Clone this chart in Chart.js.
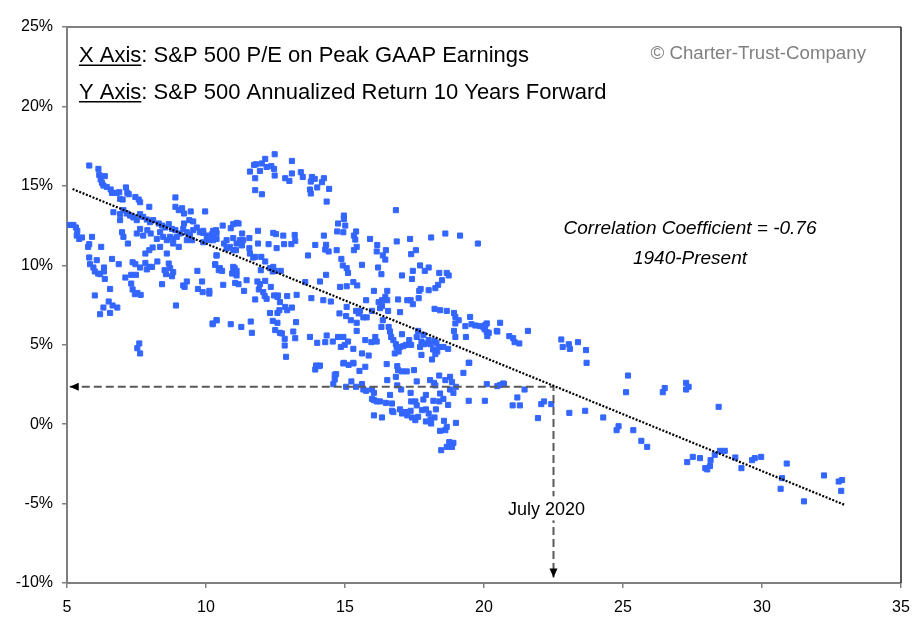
<!DOCTYPE html>
<html>
<head>
<meta charset="utf-8">
<title>S&amp;P 500 P/E vs 10-Year Forward Return</title>
<script src="https://cdn.jsdelivr.net/npm/chart.js@4.4.1/dist/chart.umd.min.js"></script>
<style>
    html, body { margin: 0; padding: 0; background: #fff; }
    #wrap { position: relative; width: 924px; height: 628px; }
</style>
</head>
<body>
<div id="wrap"><canvas id="chart"></canvas></div>
<script>
// Axis ticks
const ticksX = [5, 10, 15, 20, 25, 30, 35];
const ticksY = [-10, -5, 0, 5, 10, 15, 20, 25];

// S&P 500 P/E on peak GAAP earnings (x) and annualized return 10 years forward, % (y)
const peRatio = [
    5.80,6.13,6.16,6.21,6.26,6.36,6.31,6.43,6.57,6.62,6.79,6.88,7.12,7.17,7.22,6.91,7.00,7.46,7.58,7.63,7.96,8.90,8.90,9.02,9.14,9.21,9.45,9.97,
    6.67,6.91,7.03,7.15,7.27,7.39,7.51,7.63,7.74,7.87,7.99,8.10,8.30,8.42,8.54,8.66,8.78,8.90,8.35,8.46,8.59,8.71,8.23,8.82,8.95,9.06,9.18,9.31,9.42,9.54,9.67,9.78,9.90,10.03,10.14,10.26,10.38,9.31,9.50,9.21,9.40,9.54,
    6.91,7.51,7.74,7.63,7.89,8.01,8.35,8.59,8.82,9.02,
    5.11,5.23,5.32,5.37,5.35,5.44,5.54,5.90,5.80,5.76,6.23,6.98,7.03,7.19,
    5.80,5.83,5.95,6.00,6.12,6.07,6.19,6.33,6.33,6.36,6.62,6.86,6.55,6.00,6.31,6.19,6.50,6.55,6.64,6.81,
    7.36,7.46,7.63,7.31,7.10,7.31,7.36,7.44,7.53,7.65,7.48,7.87,7.96,8.06,8.25,7.82,7.96,8.08,7.82,
    8.51,8.66,8.71,8.56,8.82,8.78,8.42,9.18,9.31,9.23,9.71,9.88,10.12,10.12,9.86,9.69,10.33,10.38,10.46,8.92,10.24,10.38,7.60,7.53,7.63,
    12.47,12.13,12.01,11.73,11.80,11.58,11.94,12.18,12.35,12.45,12.47,13.09,11.77,12.85,13.00,13.09,13.41,13.48,13.81,13.91,13.77,14.24,14.17,14.00,13.74,13.77,14.43,14.34,11.77,12.01,
    11.10,11.17,10.98,10.60,10.89,11.30,11.87,10.26,10.36,10.22,10.14,9.90,10.03,9.90,10.26,10.38,10.65,10.74,10.86,10.98,11.10,10.98,11.22,11.34,11.29,10.74,11.56,
    11.56,11.70,11.77,11.58,11.08,10.38,10.33,10.50,10.58,10.98,10.94,11.10,10.98,11.03,11.10,11.05,11.17,10.62,11.46,11.37,11.87,
    12.25,12.54,12.78,13.19,13.21,13.07,12.52,12.81,12.42,11.99,12.13,11.97,12.30,12.42,12.49,12.69,12.40,11.85,11.94,11.90,12.13,12.33,12.06,12.11,
    11.77,12.18,12.45,12.59,12.66,12.57,12.92,12.85,12.92,13.09,13.26,13.24,12.30,12.57,12.64,12.40,12.57,11.61,11.65,11.27,10.89,10.38,10.24,
    12.49,12.66,12.73,12.83,12.83,13.14,13.21,12.88,
    13.93,14.24,14.32,14.29,14.41,14.70,14.72,14.75,14.96,14.96,15.01,14.94,15.32,15.40,15.37,15.42,15.32,14.87,14.92,15.06,15.11,14.82,15.06,15.30,15.44,14.80,15.04,15.21,15.42,15.42,
    14.32,14.10,13.57,13.79,14.22,14.49,15.06,15.40,14.85,14.99,15.11,15.30,14.34,13.74,14.00,14.29,14.56,14.75,14.94,13.93,14.96,15.30,13.67,
    16.83,15.90,16.16,16.14,16.47,16.36,16.45,16.86,15.61,16.19,16.31,17.34,18.10,18.61,19.14,19.78,17.55,17.38,
    17.70,18.01,17.87,17.44,17.41,17.05,18.39,18.66,18.73,18.49,18.35,18.25,18.01,17.72,17.67,
    16.04,16.52,16.45,16.33,16.21,16.33,16.26,15.97,15.76,15.54,15.49,15.66,15.78,16.52,16.91,16.98,17.24,17.36,17.44,17.65,
    16.55,16.36,16.31,16.09,15.95,16.14,15.73,15.61,15.85,16.57,16.62,16.66,16.74,16.83,16.86,16.98,17.10,17.19,
    16.79,16.93,17.05,17.31,17.38,17.63,17.58,17.82,17.75,17.94,17.84,17.70,17.75,
    18.22,18.42,18.66,18.92,18.97,19.09,19.33,19.50,19.55,19.69,19.86,19.98,20.05,20.10,20.17,20.46,18.97,18.92,18.97,19.35,
    18.01,18.08,18.22,18.29,18.17,18.32,18.37,18.54,18.71,18.13,18.25,19.47,
    13.96,14.10,14.63,14.58,14.94,15.13,15.30,15.52,15.73,15.23,15.04,15.40,15.61,15.66,15.76,15.97,16.04,15.97,16.04,16.14,16.26,16.47,16.62,16.69,16.74,
    16.88,16.91,16.50,16.52,16.83,16.88,17.05,17.22,17.48,17.58,17.02,17.36,17.38,17.53,17.58,17.82,17.91,18.06,18.20,18.25,18.39,18.61,18.78,18.85,18.78,18.90,
    18.42,18.18,18.39,18.54,18.71,18.99,19.26,19.45,19.45,20.03,20.10,20.48,
    16.04,16.33,16.69,16.98,17.05,17.17,17.24,17.36,17.41,17.53,17.63,17.77,17.91,18.01,17.91,18.08,18.22,18.27,18.10,18.56,18.66,18.61,18.99,18.42,18.75,18.85,18.46,18.66,18.90,
    14.07,14.63,14.68,
    20.10,20.58,20.03,20.12,20.48,20.91,21.05,21.10,21.27,21.58,22.78,22.83,23.05,23.09,23.38,23.67,23.69,25.18,25.11,26.43,26.50,
    20.69,21.46,21.20,21.03,21.29,21.94,22.06,22.16,22.42,23.07,23.64,24.29,24.84,24.77,25.37,25.66,25.87,20.58,20.72,
    27.27,27.36,27.27,28.44,27.31,27.51,27.77,27.96,28.03,28.13,28.15,28.30,28.49,28.66,29.04,29.26,29.64,29.74,29.97,30.89,30.72,30.67,31.51,32.23,32.76,32.88,32.85
];
const fwdReturn = [
    16.28,16.07,15.69,15.40,15.19,15.61,15.02,14.93,14.77,14.56,14.56,14.60,14.90,14.56,14.47,14.18,14.14,14.30,14.14,13.97,13.68,14.27,13.68,13.47,13.59,13.26,13.39,13.39,
    13.34,13.22,13.47,13.26,13.13,13.01,12.84,13.22,13.05,12.88,12.71,12.84,12.63,12.50,12.38,12.59,12.29,12.21,12.08,11.79,11.58,11.79,11.66,11.66,11.79,12.00,12.29,12.08,11.91,12.21,12.38,12.08,12.17,11.87,11.58,11.79,12.04,11.58,11.58,12.63,12.84,12.76,
    12.84,12.00,11.87,12.29,12.21,12.00,11.16,10.74,11.37,11.16,
    12.54,12.54,12.38,12.17,11.87,11.66,11.75,11.79,11.33,11.16,11.16,12.08,11.79,11.37,
    10.49,10.07,9.86,9.61,9.48,10.32,9.44,9.86,9.61,9.14,10.40,10.07,8.51,8.10,7.34,6.92,7.72,7.00,7.47,7.34,
    10.19,10.07,9.86,9.40,9.23,8.85,8.48,8.18,8.26,8.14,9.40,9.74,9.90,9.90,10.24,10.74,10.95,11.12,10.15,
    9.69,10.11,9.82,9.44,9.57,9.31,8.81,8.73,8.98,8.64,8.51,8.31,8.39,8.22,8.98,9.65,10.07,10.62,9.69,7.47,6.34,6.54,5.08,4.78,4.45,
    16.99,16.70,16.41,16.32,16.36,15.90,15.94,16.19,16.24,16.07,15.65,16.57,15.48,15.48,15.31,15.78,15.86,15.56,15.56,15.44,15.27,15.48,15.23,14.90,14.77,14.52,14.81,14.01,14.73,14.47,
    12.67,12.63,12.59,12.50,12.33,12.00,12.17,12.17,12.21,11.96,11.79,12.04,11.62,11.45,11.58,11.66,11.37,11.58,11.16,11.71,11.37,10.95,11.58,11.58,11.25,11.06,11.71,
    11.08,10.49,10.53,10.74,10.95,10.62,10.03,9.82,9.65,9.90,9.48,9.36,9.57,9.82,9.65,8.89,8.81,8.77,9.06,8.39,11.37,
    11.33,11.08,11.87,11.91,11.54,11.33,11.96,11.33,12.04,10.53,10.24,9.69,9.82,9.90,9.65,9.65,9.61,8.98,8.81,8.48,9.02,8.64,8.31,8.06,
    7.85,7.89,8.10,8.10,7.68,8.01,8.06,7.38,7.17,7.34,8.14,6.42,7.00,7.00,7.17,6.50,6.38,6.46,5.75,6.12,6.29,6.54,6.29,
    5.92,5.75,5.71,5.37,4.95,5.83,5.41,4.24,
    11.28,11.87,11.29,10.99,10.87,10.95,12.13,12.63,13.13,12.92,12.50,12.08,11.87,12.13,11.62,11.16,10.95,10.40,9.99,9.82,9.52,8.64,8.68,8.94,8.73,6.97,6.80,6.54,6.38,5.87,
    9.40,8.98,8.94,7.93,7.80,7.72,7.38,7.13,4.86,4.99,5.20,4.74,5.58,5.49,5.12,5.16,5.20,5.49,5.49,3.44,3.86,3.86,10.62,
    13.47,11.66,11.28,10.87,10.95,10.62,10.36,11.50,10.03,9.86,9.44,11.66,11.75,12.00,11.87,11.37,10.95,10.70,
    9.99,9.86,9.65,9.65,9.14,9.36,9.52,9.52,9.36,9.06,8.77,8.56,8.43,8.51,8.39,
    8.39,8.39,8.01,7.80,7.68,7.43,7.30,7.13,7.80,7.13,6.97,6.72,6.72,7.80,7.85,7.05,7.80,7.80,7.55,7.93,
    7.13,6.54,6.12,5.49,5.16,5.20,5.29,4.45,4.32,6.12,5.83,5.49,5.29,5.03,4.83,4.86,4.91,4.99,
    4.45,4.57,5.66,5.29,4.99,5.87,5.49,5.62,5.20,5.08,5.03,4.86,4.36,
    7.26,7.17,7.13,7.00,6.75,6.54,6.17,6.75,6.29,6.21,6.17,6.09,6.25,5.79,5.75,5.87,6.34,5.87,5.49,5.49,
    5.29,5.03,5.24,5.12,4.70,4.57,4.86,4.86,4.74,4.07,4.41,3.86,
    3.69,3.69,3.10,2.52,3.82,3.73,3.82,3.35,3.61,2.69,2.35,2.35,2.52,2.18,2.10,2.18,1.97,1.59,1.51,1.43,1.43,1.34,1.84,1.30,0.76,
    3.65,3.40,3.78,2.77,2.98,2.44,3.32,3.32,3.40,2.69,2.18,1.97,1.43,1.43,1.18,1.55,1.84,2.77,2.60,2.44,3.06,2.77,2.98,2.64,2.18,1.97,
    1.93,1.47,1.43,1.59,1.21,2.35,3.23,3.86,1.47,1.47,2.52,2.39,
    0.55,0.42,0.84,0.93,0.67,0.76,0.55,0.84,0.42,0.25,0.46,0.88,0.93,0.67,0.17,0.30,0.42,0.93,0.04,0.21,-0.17,-0.38,0.08,-0.42,-1.13,-1.43,-1.64,-1.43,-1.18,
    3.65,2.81,3.15,
    6.34,6.38,5.96,5.54,5.83,5.54,5.41,5.16,5.08,5.87,5.33,4.86,5.03,4.74,5.16,4.66,3.86,3.06,2.01,2.01,2.27,
    2.56,2.18,1.68,1.18,1.18,0.38,1.26,1.43,1.26,0.71,0.84,0.42,-0.13,-0.38,-0.38,-1.05,-1.43,2.47,2.52,
    2.60,2.35,2.18,1.09,-2.39,-2.06,-2.14,-2.77,-2.85,-2.64,-2.27,-1.93,-1.68,-1.68,-2.10,-2.77,-2.27,-2.14,-2.06,-2.48,-3.40,-4.07,-4.86,-3.23,-3.61,-3.52,-4.20
];

// Linear trend line end points
const trendX = [5.2, 33.0];
const trendY = [14.8, -5.1];

// July 2020 reading: P/E 22.5 -> about 2.4% expected return
const julyX = [5.1, 22.5, 22.5];
const julyY = [2.36, 2.36, -9.65];

const BLUE = "#3366ff";
const FONT = "'Liberation Sans', Arial, sans-serif";

Chart.defaults.font.family = FONT;
Chart.defaults.color = "#000";

const scatterPoints = peRatio.map((v, i) => ({ x: v, y: fwdReturn[i] }));
const trendPoints = trendX.map((v, i) => ({ x: v, y: trendY[i] }));
const julyPoints = julyX.map((v, i) => ({ x: v, y: julyY[i] }));

// Frame, arrowheads and the text boxes
const overlayPlugin = {
    id: "overlay",
    afterDatasetsDraw(chart) {
        const { ctx, chartArea: a, scales } = chart;
        const xs = scales.x, ys = scales.y;
        ctx.save();

        // top and right edges of the plot frame
        ctx.lineWidth = 2;
        ctx.strokeStyle = "#808080";
        ctx.beginPath();
        ctx.moveTo(a.left, a.top);
        ctx.lineTo(a.right, a.top);
        ctx.stroke();
        ctx.strokeStyle = "#222";
        ctx.lineWidth = 1.5;
        ctx.beginPath();
        ctx.moveTo(a.right, a.top);
        ctx.lineTo(a.right, a.bottom);
        ctx.stroke();

        // arrowheads
        ctx.fillStyle = "#000";
        const hx = xs.getPixelForValue(julyX[0]);
        const hy = ys.getPixelForValue(julyY[0]);
        ctx.beginPath();
        ctx.moveTo(hx, hy);
        ctx.lineTo(hx + 9, hy - 4);
        ctx.lineTo(hx + 9, hy + 4);
        ctx.closePath();
        ctx.fill();
        const vx = xs.getPixelForValue(julyX[2]);
        const vy = ys.getPixelForValue(julyY[2]);
        ctx.beginPath();
        ctx.moveTo(vx, vy);
        ctx.lineTo(vx - 4, vy - 9);
        ctx.lineTo(vx + 4, vy - 9);
        ctx.closePath();
        ctx.fill();

        // July 2020 label
        ctx.font = "18px " + FONT;
        ctx.textAlign = "center";
        ctx.textBaseline = "alphabetic";
        const ly = ys.getPixelForValue(-5.3);
        const lw = ctx.measureText("July 2020").width;
        ctx.fillStyle = "#fff";
        ctx.fillRect(vx - 7 - lw / 2 - 2, ly - 12, lw + 4, 24);
        ctx.fillStyle = "#000";
        ctx.fillText("July 2020", vx - 7, ly + 7);

        // axis descriptions
        ctx.textAlign = "left";
        ctx.font = "22px " + FONT;
        const tx = a.left + 12;
        const lines = [["X Axis", ": S&P 500 P/E on Peak GAAP Earnings", 62], ["Y Axis", ": S&P 500 Annualized Return 10 Years Forward", 98.5]];
        lines.forEach(([head, rest, base]) => {
            const w = ctx.measureText(head).width;
            ctx.fillText(head, tx, base);
            ctx.fillText(rest, tx + w, base);
            ctx.fillRect(tx, base + 2.5, w, 1.5);
        });

        // copyright
        ctx.fillStyle = "#808080";
        ctx.font = "18.7px " + FONT;
        ctx.textAlign = "right";
        ctx.fillText("\u00a9 Charter-Trust-Company", 866, 59);

        // correlation note
        ctx.fillStyle = "#000";
        ctx.font = "italic 19px " + FONT;
        ctx.textAlign = "center";
        ctx.fillText("Correlation Coefficient = -0.76", 690, 234);
        ctx.fillText("1940-Present", 690, 264);

        ctx.restore();
    }
};

new Chart(document.getElementById("chart"), {
    type: "scatter",
    data: {
        datasets: [
            {
                label: "Trend",
                type: "line",
                data: trendPoints,
                borderColor: "#000",
                borderWidth: 2.2,
                borderDash: [2, 1.6],
                borderCapStyle: "butt",
                pointRadius: 0,
                fill: false,
                order: 0
            },
            {
                label: "July 2020",
                type: "line",
                data: julyPoints,
                borderColor: "#5a5a5a",
                borderWidth: 2,
                borderDash: [8, 4],
                pointRadius: 0,
                fill: false,
                order: 1
            },
            {
                label: "P/E vs forward return",
                data: scatterPoints,
                pointStyle: "rect",
                pointRadius: 3.6,
                pointBorderWidth: 1,
                backgroundColor: BLUE,
                borderColor: BLUE,
                order: 2
            }
        ]
    },
    options: {
        responsive: true,
        maintainAspectRatio: false,
        animation: false,
        layout: { padding: { top: 27, right: 23, left: 0, bottom: 0 } },
        plugins: {
            legend: { display: false },
            tooltip: { enabled: false }
        },
        scales: {
            x: {
                type: "linear",
                min: ticksX[0],
                max: ticksX[ticksX.length - 1],
                afterBuildTicks: s => { s.ticks = ticksX.map(v => ({ value: v })); },
                afterFit: s => { s.height = 45; },
                ticks: { color: "#000", font: { size: 16 }, padding: 10, maxRotation: 0 },
                grid: { drawOnChartArea: false, drawTicks: true, tickLength: 5, color: "#808080", lineWidth: 1.5 },
                border: { display: true, color: "#808080", width: 2 }
            },
            y: {
                type: "linear",
                min: ticksY[0],
                max: ticksY[ticksY.length - 1],
                afterBuildTicks: s => { s.ticks = ticksY.map(v => ({ value: v })); },
                afterFit: s => { s.width = 67; },
                ticks: { color: "#000", font: { size: 16 }, padding: 9, callback: v => v + "%" },
                grid: { drawOnChartArea: false, drawTicks: true, tickLength: 5, color: "#808080", lineWidth: 1.5 },
                border: { display: true, color: "#808080", width: 2 }
            }
        }
    },
    plugins: [overlayPlugin]
});
</script>
</body>
</html>
